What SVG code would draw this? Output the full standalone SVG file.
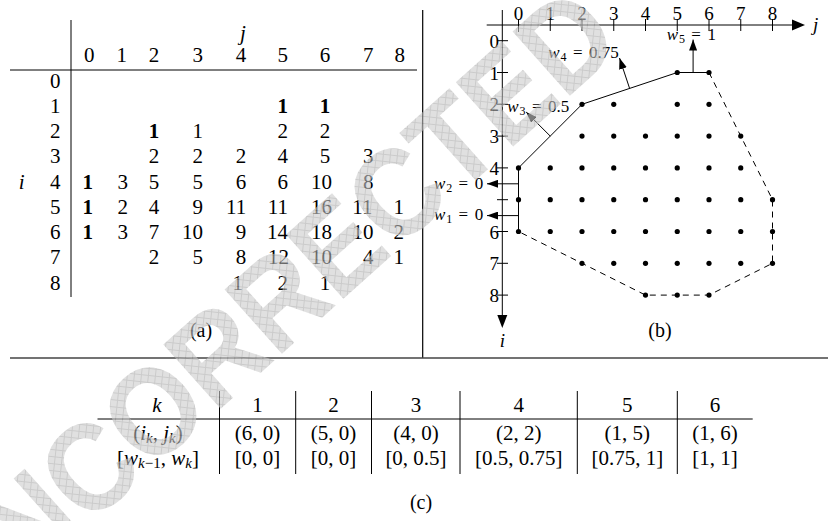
<svg xmlns="http://www.w3.org/2000/svg" width="828" height="521" viewBox="0 0 828 521">
<style>
text{font-family:"Liberation Serif","Times New Roman",serif}
.a{font-size:21px;text-anchor:end}
.h{font-size:21px;text-anchor:end}
.b{font-weight:bold}
.it{font-style:italic}
.ax{font-size:19px}
.axj{font-size:19px;text-anchor:middle}
.axi{font-size:19px;text-anchor:end}
.wl{font-size:17px}
.c{font-size:21px;text-anchor:middle}
.cap{font-size:20px;text-anchor:middle}
.ln{stroke:#000;stroke-width:1;fill:none}
.dash{stroke:#000;stroke-width:1;fill:none;stroke-dasharray:6 5}
.dot{fill:#000}
.wm{font-family:"Liberation Sans",Arial,sans-serif;font-weight:bold;font-size:125px}
</style>
<defs>
<marker id="ah" markerUnits="userSpaceOnUse" markerWidth="11" markerHeight="8" refX="11" refY="4" orient="auto">
<path d="M0,0 L11,4 L0,8 z" fill="#000"/>
</marker>
<pattern id="hatch" width="7" height="7" patternUnits="userSpaceOnUse" patternTransform="rotate(-42)">
<rect width="7" height="7" fill="#cdcdcd"/>
<path d="M0,0.5H7M0.5,0V7" stroke="#a9a9a9" stroke-width="1"/>
</pattern>
</defs>
<rect width="828" height="521" fill="#fff"/>

<g id="frame">
<line x1="422.7" y1="10" x2="422.7" y2="358" stroke="#000" stroke-width="1.2"/>
<line x1="10" y1="358" x2="828" y2="358" stroke="#444" stroke-width="1.6"/>
</g>

<g id="panel-a">
<line class="ln" x1="71" y1="20" x2="71" y2="297"/>
<line class="ln" x1="10" y1="70" x2="417" y2="70"/>
<text class="it" x="243" y="40" font-size="21" text-anchor="middle">j</text>
<text class="it" x="21.7" y="188.5" font-size="21" text-anchor="middle">i</text>
<g id="col-headers">
<text class="h" x="94.5" y="62">0</text><text class="h" x="127" y="62">1</text><text class="h" x="159.3" y="62">2</text><text class="h" x="203" y="62">3</text><text class="h" x="246.3" y="62">4</text><text class="h" x="288" y="62">5</text><text class="h" x="330.3" y="62">6</text><text class="h" x="373.5" y="62">7</text><text class="h" x="405" y="62">8</text>
</g>
<g id="row-headers">
<text class="h" x="60.5" y="87.5">0</text><text class="h" x="60.5" y="112.75">1</text><text class="h" x="60.5" y="138">2</text><text class="h" x="60.5" y="163.25">3</text><text class="h" x="60.5" y="188.5">4</text><text class="h" x="60.5" y="213.75">5</text><text class="h" x="60.5" y="239">6</text><text class="h" x="60.5" y="264.25">7</text><text class="h" x="60.5" y="289.5">8</text>
</g>
<g id="cells">
<text class="a b" x="288" y="112.75">1</text><text class="a b" x="330.3" y="112.75">1</text>
<text class="a b" x="159.3" y="138">1</text><text class="a" x="203" y="138">1</text><text class="a" x="288" y="138">2</text><text class="a" x="330.3" y="138">2</text>
<text class="a" x="159.3" y="163.25">2</text><text class="a" x="203" y="163.25">2</text><text class="a" x="246.3" y="163.25">2</text><text class="a" x="288" y="163.25">4</text><text class="a" x="330.3" y="163.25">5</text><text class="a" x="373.5" y="163.25">3</text>
<text class="a b" x="93" y="188.5">1</text><text class="a" x="128" y="188.5">3</text><text class="a" x="159.3" y="188.5">5</text><text class="a" x="203" y="188.5">5</text><text class="a" x="246.3" y="188.5">6</text><text class="a" x="288" y="188.5">6</text><text class="a" x="332" y="188.5">10</text><text class="a" x="373.5" y="188.5">8</text>
<text class="a b" x="93" y="213.75">1</text><text class="a" x="128" y="213.75">2</text><text class="a" x="159.3" y="213.75">4</text><text class="a" x="203" y="213.75">9</text><text class="a" x="246.3" y="213.75">11</text><text class="a" x="288" y="213.75">11</text><text class="a" x="332" y="213.75">16</text><text class="a" x="372.5" y="213.75">11</text><text class="a" x="404" y="213.75">1</text>
<text class="a b" x="93" y="239">1</text><text class="a" x="128" y="239">3</text><text class="a" x="159.3" y="239">7</text><text class="a" x="203" y="239">10</text><text class="a" x="246.3" y="239">9</text><text class="a" x="288" y="239">14</text><text class="a" x="332" y="239">18</text><text class="a" x="373.5" y="239">10</text><text class="a" x="404" y="239">2</text>
<text class="a" x="159.3" y="264.25">2</text><text class="a" x="203" y="264.25">5</text><text class="a" x="246.3" y="264.25">8</text><text class="a" x="289" y="264.25">12</text><text class="a" x="332" y="264.25">10</text><text class="a" x="373.5" y="264.25">4</text><text class="a" x="404" y="264.25">1</text>
<text class="a" x="243" y="289.5">1</text><text class="a" x="288" y="289.5">2</text><text class="a" x="330.3" y="289.5">1</text>
</g>
<text class="cap" x="201" y="337">(a)</text>
</g>

<g id="panel-b">
<g id="axes">
<line class="ln" x1="486.7" y1="25" x2="794" y2="25"/>
<path d="M805,25 L792,19.5 L792,30.5 z" fill="#000"/>
<line class="ln" x1="502.3" y1="10" x2="502.3" y2="316"/>
<path d="M502.3,328 L497.3,315 L507.3,315 z" fill="#000"/>
<text class="it ax" x="813" y="31">j</text>
<text class="it axj" x="502.3" y="347">i</text>
<path class="ln" d="M518.5,19V32M550.25,19V31M582,19V31M613.75,19V31M645.5,19V31M677.25,19V31M709,19V31M740.75,19V31M772.5,19V31"/>
<path class="ln" d="M497,40.7H508M497,72.5H508M497,104.3H508M497,136.1H508M497,167.9H508M497,199.7H508M497,231.5H508M497,263.3H508M497,295.1H508"/>
<text class="axj" x="518.5" y="20">0</text><text class="axj" x="550.25" y="20">1</text><text class="axj" x="582" y="20">2</text><text class="axj" x="613.75" y="20">3</text><text class="axj" x="645.5" y="20">4</text><text class="axj" x="677.25" y="20">5</text><text class="axj" x="709" y="20">6</text><text class="axj" x="740.75" y="20">7</text><text class="axj" x="772.5" y="20">8</text>
<text class="axi" x="499" y="47.7">0</text><text class="axi" x="499" y="79.5">1</text><text class="axi" x="499" y="111.3">2</text><text class="axi" x="499" y="143.1">3</text><text class="axi" x="499" y="174.9">4</text><text class="axi" x="499" y="238.5">6</text><text class="axi" x="499" y="270.3">7</text><text class="axi" x="499" y="302.1">8</text>
</g>
<g id="points">
<circle class="dot" cx="677.25" cy="72.5" r="2.6"/><circle class="dot" cx="709" cy="72.5" r="2.6"/>
<circle class="dot" cx="582" cy="104.3" r="2.6"/><circle class="dot" cx="613.75" cy="104.3" r="2.6"/><circle class="dot" cx="677.25" cy="104.3" r="2.6"/><circle class="dot" cx="709" cy="104.3" r="2.6"/>
<circle class="dot" cx="582" cy="136.1" r="2.6"/><circle class="dot" cx="613.75" cy="136.1" r="2.6"/><circle class="dot" cx="645.5" cy="136.1" r="2.6"/><circle class="dot" cx="677.25" cy="136.1" r="2.6"/><circle class="dot" cx="709" cy="136.1" r="2.6"/><circle class="dot" cx="740.75" cy="136.1" r="2.6"/>
<circle class="dot" cx="518.5" cy="167.9" r="2.6"/><circle class="dot" cx="550.25" cy="167.9" r="2.6"/><circle class="dot" cx="582" cy="167.9" r="2.6"/><circle class="dot" cx="613.75" cy="167.9" r="2.6"/><circle class="dot" cx="645.5" cy="167.9" r="2.6"/><circle class="dot" cx="677.25" cy="167.9" r="2.6"/><circle class="dot" cx="709" cy="167.9" r="2.6"/><circle class="dot" cx="740.75" cy="167.9" r="2.6"/>
<circle class="dot" cx="518.5" cy="199.7" r="2.6"/><circle class="dot" cx="550.25" cy="199.7" r="2.6"/><circle class="dot" cx="582" cy="199.7" r="2.6"/><circle class="dot" cx="613.75" cy="199.7" r="2.6"/><circle class="dot" cx="645.5" cy="199.7" r="2.6"/><circle class="dot" cx="677.25" cy="199.7" r="2.6"/><circle class="dot" cx="709" cy="199.7" r="2.6"/><circle class="dot" cx="740.75" cy="199.7" r="2.6"/><circle class="dot" cx="772.5" cy="199.7" r="2.6"/>
<circle class="dot" cx="518.5" cy="231.5" r="2.6"/><circle class="dot" cx="550.25" cy="231.5" r="2.6"/><circle class="dot" cx="582" cy="231.5" r="2.6"/><circle class="dot" cx="613.75" cy="231.5" r="2.6"/><circle class="dot" cx="645.5" cy="231.5" r="2.6"/><circle class="dot" cx="677.25" cy="231.5" r="2.6"/><circle class="dot" cx="709" cy="231.5" r="2.6"/><circle class="dot" cx="740.75" cy="231.5" r="2.6"/><circle class="dot" cx="772.5" cy="231.5" r="2.6"/>
<circle class="dot" cx="582" cy="263.3" r="2.6"/><circle class="dot" cx="613.75" cy="263.3" r="2.6"/><circle class="dot" cx="645.5" cy="263.3" r="2.6"/><circle class="dot" cx="677.25" cy="263.3" r="2.6"/><circle class="dot" cx="709" cy="263.3" r="2.6"/><circle class="dot" cx="740.75" cy="263.3" r="2.6"/><circle class="dot" cx="772.5" cy="263.3" r="2.6"/>
<circle class="dot" cx="645.5" cy="295.1" r="2.6"/><circle class="dot" cx="677.25" cy="295.1" r="2.6"/><circle class="dot" cx="709" cy="295.1" r="2.6"/>
</g>
<g id="connectors">
<polyline class="ln" points="518.5,231.5 518.5,167.9 582,104.3 677.25,72.5 709,72.5"/>
<polyline class="dash" points="709,72.5 772.5,199.7 772.5,263.3 709,295.1 645.5,295.1 518.5,231.5"/>
<line class="ln" x1="693.1" y1="72.5" x2="693.1" y2="39.5" marker-end="url(#ah)"/>
<line class="ln" x1="629.6" y1="88.4" x2="619.5" y2="58" marker-end="url(#ah)"/>
<line class="ln" x1="550.25" y1="136.1" x2="526.2" y2="112.1" marker-end="url(#ah)"/>
<line class="ln" x1="518.5" y1="183.8" x2="487" y2="183.8" marker-end="url(#ah)"/>
<line class="ln" x1="518.5" y1="215.6" x2="487" y2="215.6" marker-end="url(#ah)"/>
</g>
<g id="normal-labels">
<text class="wl"><tspan x="666.7" y="40" class="it">w</tspan><tspan x="678.9" y="43" font-size="12">5</tspan><tspan x="691.3" y="40">=</tspan><tspan x="707.5" y="40">1</tspan></text>
<text class="wl"><tspan x="548.3" y="58" class="it">w</tspan><tspan x="560.5" y="61" font-size="12">4</tspan><tspan x="572.9" y="58">=</tspan><tspan x="589.1" y="58">0.75</tspan></text>
<text class="wl"><tspan x="507.3" y="112" class="it">w</tspan><tspan x="519.5" y="115" font-size="12">3</tspan><tspan x="531.9" y="112">=</tspan><tspan x="548.1" y="112">0.5</tspan></text>
<text class="wl"><tspan x="434" y="188.5" class="it">w</tspan><tspan x="446.2" y="191.5" font-size="12">2</tspan><tspan x="458.6" y="188.5">=</tspan><tspan x="474.8" y="188.5">0</tspan></text>
<text class="wl"><tspan x="434" y="220.3" class="it">w</tspan><tspan x="446.2" y="223.3" font-size="12">1</tspan><tspan x="458.6" y="220.3">=</tspan><tspan x="474.8" y="220.3">0</tspan></text>
</g>
<text class="cap" x="660" y="337">(b)</text>
</g>

<g id="panel-c">
<line class="ln" x1="97.5" y1="419" x2="752.7" y2="419"/>
<path class="ln" d="M219.5,391V474M295.7,391V474M371.5,391V474M460,391V474M577.3,391V474M677.3,391V474"/>
<text class="c it" x="157" y="411.5">k</text>
<text class="c" x="158" y="440">(<tspan class="it">i</tspan><tspan class="it" font-size="15" dy="3">k</tspan><tspan dy="-3">, </tspan><tspan class="it">j</tspan><tspan class="it" font-size="15" dy="3">k</tspan><tspan dy="-3">)</tspan></text>
<text class="c" x="158" y="465">[<tspan class="it">w</tspan><tspan font-size="15" dy="3"><tspan class="it">k</tspan>−1</tspan><tspan dy="-3">, </tspan><tspan class="it">w</tspan><tspan class="it" font-size="15" dy="3">k</tspan><tspan dy="-3">]</tspan></text>
<text class="c" x="257.5" y="411.5">1</text><text class="c" x="333.6" y="411.5">2</text><text class="c" x="416" y="411.5">3</text><text class="c" x="518.7" y="411.5">4</text><text class="c" x="627.3" y="411.5">5</text><text class="c" x="715" y="411.5">6</text>
<text class="c" x="257.5" y="440">(6, 0)</text><text class="c" x="333.6" y="440">(5, 0)</text><text class="c" x="416" y="440">(4, 0)</text><text class="c" x="518.7" y="440">(2, 2)</text><text class="c" x="627.3" y="440">(1, 5)</text><text class="c" x="715" y="440">(1, 6)</text>
<text class="c" x="257.5" y="465">[0, 0]</text><text class="c" x="333.6" y="465">[0, 0]</text><text class="c" x="416" y="465">[0, 0.5]</text><text class="c" x="518.7" y="465">[0.5, 0.75]</text><text class="c" x="627.3" y="465">[0.75, 1]</text><text class="c" x="715" y="465">[1, 1]</text>
<text class="cap" x="421" y="509">(c)</text>
</g>

<g id="watermark" opacity="0.6">
<text class="wm" transform="translate(-35.2,637.8) rotate(-41.86)" fill="url(#hatch)" textLength="887.3" lengthAdjust="spacingAndGlyphs">UNCORRECTED</text>
</g>
</svg>
